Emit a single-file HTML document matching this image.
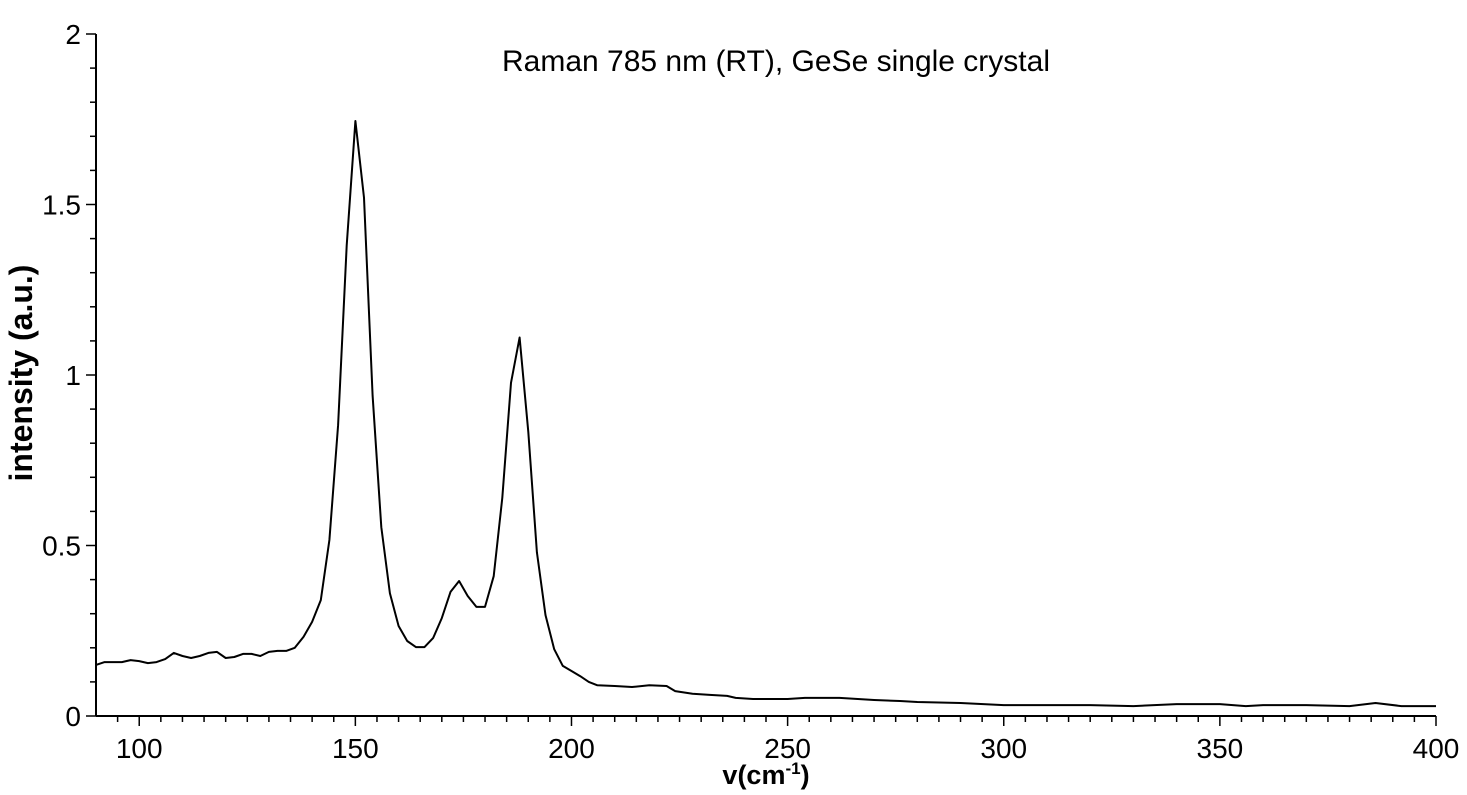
<!DOCTYPE html>
<html><head><meta charset="utf-8"><style>
html,body{margin:0;padding:0;background:#fff;}
svg text{font-family:"Liberation Sans",sans-serif;fill:#000;}
</style></head><body>
<svg id="chart" width="1467" height="790" viewBox="0 0 1467 790">
<text x="776" y="71" font-size="30" text-anchor="middle">Raman 785 nm (RT), GeSe single crystal</text>
<text transform="translate(32,373) rotate(-90)" font-size="32" font-weight="bold" text-anchor="middle">intensity (a.u.)</text>
<text x="766" y="784" font-size="27" font-weight="bold" text-anchor="middle">v(cm<tspan font-size="17" dy="-10">-1</tspan><tspan dy="10">)</tspan></text>
<g id="axes"></g>
<path id="line" fill="none" stroke="#000" stroke-width="2" stroke-linejoin="round"></path>
</svg>
<script>
const xValues=[90,92,94,96,98,100,102,104,106,108,110,112,114,116,118,120,122,124,126,128,130,132,134,136,138,140,142,144,146,148,150,152,154,156,158,160,162,164,166,168,170,172,174,176,178,180,182,184,186,188,190,192,194,196,198,200,202,204,206,210,214,218,222,224,228,232,236,238,242,250,254,262,270,276,280,290,300,310,320,330,340,350,356,360,370,380,386,392,400];
const intensity=[0.150,0.158,0.158,0.158,0.164,0.161,0.155,0.158,0.167,0.185,0.176,0.170,0.176,0.185,0.188,0.170,0.173,0.182,0.182,0.176,0.188,0.191,0.191,0.200,0.232,0.276,0.340,0.516,0.853,1.380,1.745,1.520,0.940,0.554,0.360,0.264,0.220,0.202,0.202,0.229,0.287,0.364,0.396,0.352,0.320,0.320,0.410,0.640,0.977,1.110,0.833,0.480,0.296,0.196,0.147,0.132,0.117,0.100,0.090,0.088,0.085,0.090,0.088,0.073,0.065,0.062,0.059,0.053,0.050,0.050,0.053,0.053,0.047,0.044,0.041,0.038,0.032,0.032,0.032,0.029,0.035,0.035,0.029,0.032,0.032,0.029,0.038,0.029,0.029];
const xTicks=[100,150,200,250,300,350,400];
const yTicks=[0,0.5,1,1.5,2];
const X0=96,X1=1436,Y0=716,Y1=34,xmin=90,xmax=400,ymin=0,ymax=2;
const sx=v=>X0+(v-xmin)/(xmax-xmin)*(X1-X0);
const sy=v=>Y0-(v-ymin)/(ymax-ymin)*(Y0-Y1);
const NS="http://www.w3.org/2000/svg";
const g=document.getElementById('axes');
function mk(tag,attrs){const e=document.createElementNS(NS,tag);for(const k in attrs)e.setAttribute(k,attrs[k]);g.appendChild(e);return e;}
let a=mk('line',{x1:X0,y1:Y1,x2:X0,y2:Y0,stroke:'#000','stroke-width':2});


a=mk('line',{x1:X0,y1:Y0,x2:X1,y2:Y0,stroke:'#000','stroke-width':2});


for(let v=95;v<=400;v+=5){const major=v%50===0;const t=mk('line',{x1:sx(v),y1:Y0,x2:sx(v),y2:Y0+(major?10:6),stroke:'#000','stroke-width':1.5});

}
for(let i=0;i<=20;i++){const v=i/10;const major=i%5===0;const t=mk('line',{x1:X0-(major?10:6),y1:sy(v),x2:X0,y2:sy(v),stroke:'#000','stroke-width':1.5});

}
xTicks.forEach(v=>{const t=mk('text',{x:sx(v),y:Y0+42,'font-size':28,'text-anchor':'middle'});t.textContent=String(v);

});
yTicks.forEach(v=>{const t=mk('text',{x:X0-15,y:sy(v)+10,'font-size':28,'text-anchor':'end'});t.textContent=String(v);

});
document.getElementById('line').setAttribute('d',xValues.map((x,i)=>(i?'L':'M')+sx(x).toFixed(1)+','+sy(intensity[i]).toFixed(1)).join(''));
</script>
</body></html>
